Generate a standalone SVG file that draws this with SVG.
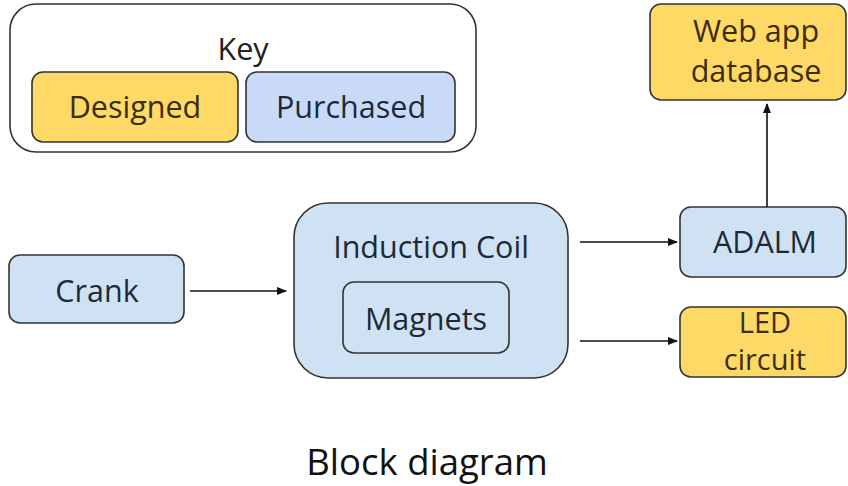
<svg xmlns="http://www.w3.org/2000/svg" width="848" height="486" viewBox="0 0 848 486">
  <defs>
    <marker id="arrow" markerWidth="10" markerHeight="8" refX="9" refY="4" orient="auto" markerUnits="userSpaceOnUse">
      <path d="M0,0 L10,4 L0,8 Z" fill="#111"/>
    </marker>
    <style>
      text { font-family: "Open Sans", "Noto Sans", "Liberation Sans", sans-serif; font-size: 30.5px; text-anchor: middle; }
      .box { stroke: #333; stroke-width: 1.6; }
      .designed { fill: #ffd966; }
      .purchased { fill: #cfe2f3; }
      .purchased-key { fill: #c9daf8; }
      .key { fill: #fff; stroke: #333; stroke-width: 1.6; }
      .dt { fill: #3a2e0a; }
      .pt { fill: #1e2a38; }
      .tight { font-size: 29px; }
      .conn { stroke: #111; stroke-width: 1.6; fill: none; marker-end: url(#arrow); }
      .title { font-size: 36.5px; fill: #111; }
    </style>
  </defs>

  <!-- legend -->
  <g id="key">
    <rect class="key" x="10" y="4" width="466" height="148" rx="26"/>
    <text x="243" y="60" fill="#222">Key</text>
    <g id="key-designed">
      <rect class="box designed" x="32" y="72" width="206" height="70" rx="11"/>
      <text class="dt" x="135" y="118">Designed</text>
    </g>
    <g id="key-purchased">
      <rect class="box purchased-key" x="246" y="72" width="209" height="70" rx="11"/>
      <text class="pt" x="351" y="118">Purchased</text>
    </g>
  </g>

  <g id="web-app-database">
    <rect class="box designed" x="650" y="4" width="196" height="96" rx="11"/>
    <text class="dt" x="756" y="42">Web app</text>
    <text class="dt" x="756" y="82">database</text>
  </g>

  <g id="crank">
    <rect class="box purchased" x="9" y="255" width="175" height="68" rx="11"/>
    <text class="pt" x="97" y="302">Crank</text>
  </g>

  <g id="induction-coil">
    <rect class="box purchased" x="294" y="203" width="274" height="175" rx="34"/>
    <text class="pt" x="431" y="258">Induction Coil</text>
    <g id="magnets">
      <rect class="box purchased" x="343" y="282" width="166" height="71" rx="11"/>
      <text class="pt" x="426" y="330">Magnets</text>
    </g>
  </g>

  <g id="adalm">
    <rect class="box purchased" x="680" y="207" width="166" height="70" rx="11"/>
    <text class="pt" x="765" y="253">ADALM</text>
  </g>

  <g id="led-circuit">
    <rect class="box designed" x="680" y="307" width="166" height="70" rx="11"/>
    <text class="dt tight" x="765" y="333">LED</text>
    <text class="dt tight" x="765" y="370">circuit</text>
  </g>

  <g id="connectors">
    <line class="conn" x1="190" y1="291" x2="286" y2="291"/>
    <line class="conn" x1="580" y1="242" x2="677" y2="242"/>
    <line class="conn" x1="580" y1="341" x2="677" y2="341"/>
    <line class="conn" x1="767" y1="207" x2="767" y2="104"/>
  </g>

  <text class="title" x="427" y="475">Block diagram</text>
</svg>
